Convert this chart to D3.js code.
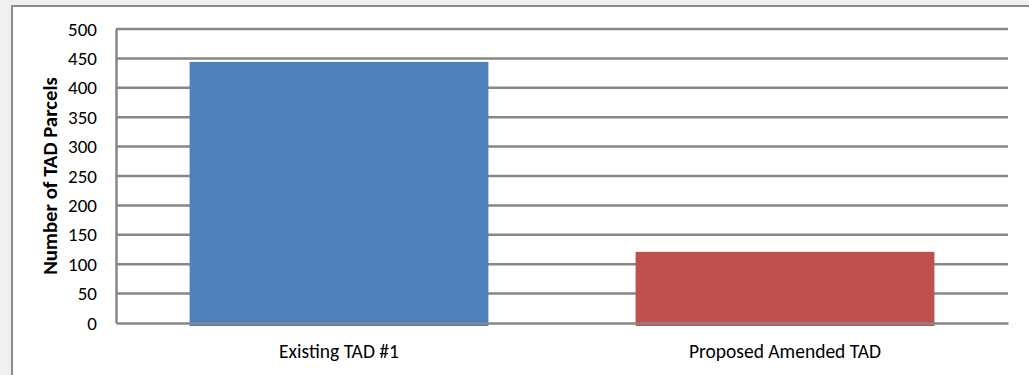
<!DOCTYPE html>
<html>
<head>
<meta charset="utf-8">
<script src="https://cdn.jsdelivr.net/npm/d3@7"></script>
<style>
  html, body { margin: 0; padding: 0; background: #f0f0f0; }
  svg { display: block; }
</style>
</head>
<body>
<div id="chart"></div>
<script>
'use strict';

const categories = ['Existing TAD #1', 'Proposed Amended TAD'];
const parcels = [444, 121];
const barColors = ['#4f81bd', '#c0504d'];
const yTicks = [0, 50, 100, 150, 200, 250, 300, 350, 400, 450, 500];

const FONT = 'Calibri, Carlito, "Open Sans", sans-serif';
const width = 1029, height = 375;
const margin = { top: 29, right: 21, bottom: 52, left: 116 };

const svg = d3.select('#chart')
    .append('svg')
    .attr('width', width)
    .attr('height', height)
    .style('font-family', FONT);

// white chart box with a grey frame (right and bottom run off the page)
svg.append('rect')
    .attr('x', 12).attr('y', 6)
    .attr('width', width + 10).attr('height', height + 10)
    .attr('fill', '#fff')
    .attr('stroke', '#8c8c8c')
    .attr('stroke-width', 2);

const chart = svg.append('g')
    .attr('transform', `translate(${margin.left},${margin.top})`);

const innerW = width - margin.left - margin.right;
const innerH = height - margin.top - margin.bottom;

const x = d3.scaleBand()
    .domain(categories)
    .range([0, innerW])
    .paddingInner(0.33)
    .paddingOuter(0.165);

const y = d3.scaleLinear()
    .domain([0, 500])
    .range([innerH, 0]);

// grid lines
chart.append('g')
    .selectAll('line')
    .data(yTicks.filter(d => d > 0))
    .join('line')
    .attr('x1', 0).attr('x2', innerW)
    .attr('y1', d => y(d)).attr('y2', d => y(d))
    .attr('stroke', '#878787')
    .attr('stroke-width', 2.5);

// bars
chart.append('g')
    .selectAll('rect')
    .data(parcels)
    .join('rect')
    .attr('x', (d, i) => x(categories[i]))
    .attr('y', d => y(d))
    .attr('width', x.bandwidth())
    .attr('height', d => innerH - y(d) + 3)
    .attr('fill', (d, i) => barColors[i]);

// y axis
const yAxis = chart.append('g')
    .call(d3.axisLeft(y).tickValues(yTicks).tickSize(0).tickPadding(19))
    .attr('font-family', FONT)
    .attr('font-size', 19);
yAxis.select('.domain').attr('stroke', '#878787').attr('stroke-width', 2.5);
yAxis.selectAll('text').attr('fill', '#000');

// x axis
const xAxis = chart.append('g')
    .attr('transform', `translate(0,${innerH})`)
    .call(d3.axisBottom(x).tickSize(0).tickPadding(21))
    .attr('font-family', FONT)
    .attr('font-size', 19.5);
xAxis.select('.domain').attr('stroke', '#878787').attr('stroke-width', 2.5);
xAxis.selectAll('text').attr('fill', '#000');

// y title
svg.append('text')
    .attr('transform', `translate(57,${margin.top + innerH / 2}) rotate(-90)`)
    .attr('text-anchor', 'middle')
    .attr('font-size', 20.8)
    .attr('font-weight', 'bold')
    .text('Number of TAD Parcels');
</script>
</body>
</html>
